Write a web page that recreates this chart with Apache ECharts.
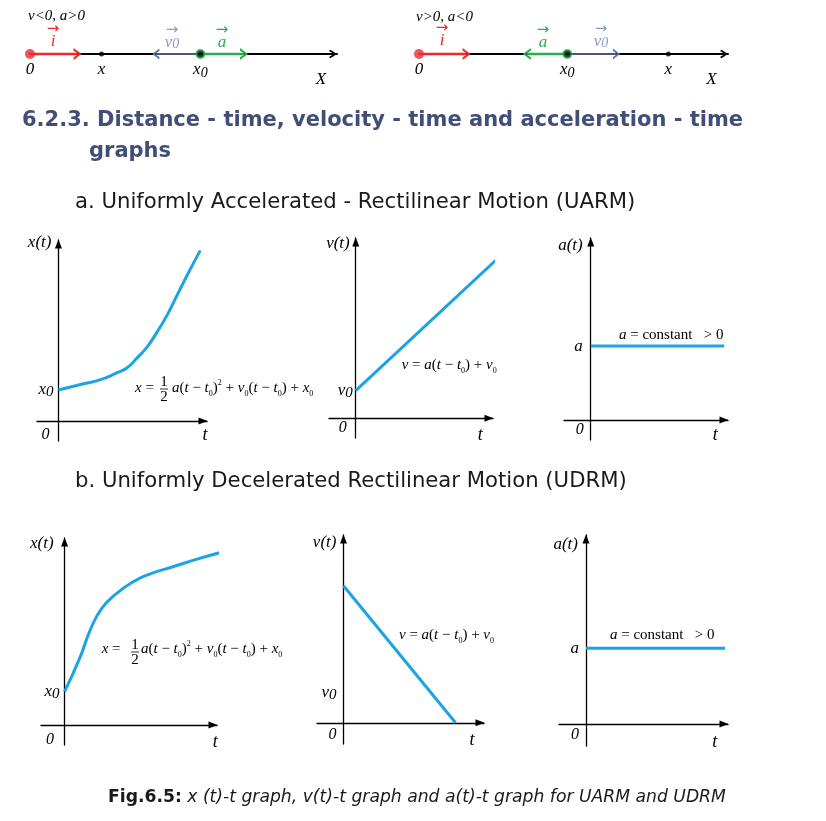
<!DOCTYPE html>
<html><head><meta charset="utf-8">
<script src="https://cdn.jsdelivr.net/npm/echarts@6/dist/echarts.min.js"></script>
<style>html,body{margin:0;padding:0;background:#fff}#c{width:826px;height:821px}</style>
</head><body><div id="c"></div>
<script>
// ================= DATA =================
// number line 1 (v<0, a>0): positions along X
const nl1Points = [0, 2.33, 5.55];          // 0, x, x0
const nl1Names  = ['0', 'x', 'x0'];
const nl1ArrowI  = [0, 1.55];
const nl1ArrowV0 = [5.55, 4.1];
const nl1ArrowA  = [5.55, 6.97];
// number line 2 (v>0, a<0)
const nl2Points = [0, 4.8, 8.07];           // 0, x0, x
const nl2Names  = ['0', 'x0', 'x'];
const nl2ArrowI  = [0, 1.54];
const nl2ArrowA  = [4.8, 3.49];
const nl2ArrowV0 = [4.8, 6.39];

// UARM graphs
const uarmT  = [0, 1.69, 2.89, 4.08, 4.79, 5.49, 6.20, 6.90, 7.61, 8.31, 9.01, 9.93];
const uarmX  = [2.0, 2.39, 2.65, 3.10, 3.42, 4.06, 4.77, 5.74, 6.84, 8.13, 9.42, 11.03];
const uarmVT = [0, 10.04];
const uarmV  = [1.78, 10.36];
const uarmAT = [0, 9.39];
const uarmA  = [4.77, 4.77];
// UDRM graphs
const udrmT  = [0, 1.11, 1.81, 2.63, 3.69, 4.86, 6.04, 7.68, 9.56, 11.67];
const udrmX  = [2.15, 4.41, 6.13, 7.53, 8.50, 9.25, 9.74, 10.21, 10.75, 11.29];
const udrmVT = [0, 7.92];
const udrmV  = [8.84, 0];
const udrmAT = [0, 9.79];
const udrmA  = [4.88, 4.88];
const udrmV0Tick = 1.94;

// ================= STYLE / LAYOUT =================
const SERIF = "'Liberation Serif','Times New Roman',serif";
const SANS = "'DejaVu Sans',Arial,Helvetica,sans-serif";
const BLUE = '#1ba3e4';
const RED = '#ec2a2e';
const GREEN = '#27b04a';
const VBLUE = '#5d74a3';
const CHEV_UP = 'path://M6,0 L12,9 L10,11 L6,4.2 L2,11 L0,9 Z';
const CHEV_R = 'path://M0,0 L10,6 L0,12 L0,9.2 L6.4,6 L0,2.8 Z';

const graphs = [
  {t: uarmT, v: uarmX, tick: uarmX[0], tickName: 'x0', yName: 'x(t)',
   box: {left: 37, top: 240, width: 170, height: 201}, xr: [-1.5, 10.4], yr: [-1.3, 11.7],
   yGap: -3, yPad: 7, tGap: -2, tPad: 5.5, zPad: 9, zM: 5.5, labM: 5},
  {t: uarmVT, v: uarmV, tick: uarmV[0], tickName: 'v0', yName: 'v(t)',
   box: {left: 329, top: 238, width: 164, height: 200}, xr: [-1.88, 9.65], yr: [-1.27, 11.63],
   yGap: -5.5, yPad: 6, tGap: -12.7, tPad: 8, zPad: 9, zM: 1, labM: 3},
  {t: uarmAT, v: uarmA, tick: uarmA[0], tickName: 'a', yName: 'a(t)',
   box: {left: 564, top: 238, width: 164, height: 202}, xr: [-1.88, 9.65], yr: [-1.29, 11.74],
   yGap: -8, yPad: 8, tGap: -12.7, tPad: 6.5, zPad: 7, zM: 2, labM: 8},
  {t: udrmT, v: udrmX, tick: udrmX[0], tickName: 'x0', yName: 'x(t)',
   box: {left: 41, top: 538, width: 176, height: 207}, xr: [-1.66, 10.73], yr: [-1.29, 12.05],
   yGap: -6, yPad: 11, tGap: -1.7, tPad: 8, zPad: 10.5, zM: 6.5, labM: 5},
  {t: udrmVT, v: udrmV, tick: udrmV0Tick, tickName: 'v0', yName: 'v(t)',
   box: {left: 317, top: 535, width: 167, height: 209}, xr: [-1.87, 9.93], yr: [-1.37, 12.11],
   yGap: -7.5, yPad: 7, tGap: -12, tPad: 9, zPad: 7, zM: 4.3, labM: 7},
  {t: udrmAT, v: udrmA, tick: udrmA[0], tickName: 'a', yName: 'a(t)',
   box: {left: 559, top: 535, width: 169, height: 211}, xr: [-1.9, 10.0], yr: [-1.42, 12.19],
   yGap: -9.6, yPad: 8, tGap: -13.3, tPad: 9, zPad: 7, zM: 3, labM: 7}
];

const italic = {fontFamily: SERIF, fontStyle: 'italic', color: '#000'};
const richLab = {
  v: {fontFamily: SERIF, fontStyle: 'italic', fontSize: 17, lineHeight: 20, color: '#000'},
  s: {fontFamily: SERIF, fontStyle: 'italic', fontSize: 15, lineHeight: 15, verticalAlign: 'bottom', color: '#000'}
};
function fmtName(n) {
  if (n.length === 2) return '{v|' + n[0] + '}{s|' + n[1] + '}';
  return '{v|' + n + '}';
}

const grid = [], xAxis = [], yAxis = [], series = [];
graphs.forEach((g, k) => {
  grid.push(Object.assign({containLabel: false}, g.box));
  // labels stay at the grid edge, so shift them to the crossing axis
  const dx = (-g.xr[0]) / (g.xr[1] - g.xr[0]) * g.box.width;
  const dy = (-g.yr[0]) / (g.yr[1] - g.yr[0]) * g.box.height;
  xAxis.push({
    type: 'value', gridIndex: k, min: g.xr[0], max: g.xr[1],
    splitLine: {show: false}, axisTick: {show: false},
    axisLine: {show: true, onZero: true, symbol: ['none', 'triangle'], symbolSize: [7, 9], symbolOffset: [0, -4],
      lineStyle: {color: '#000', width: 1.3}},
    axisLabel: {customValues: [0], formatter: () => '0', margin: g.zM - dy, align: 'right',
      padding: [0, g.zPad, 0, 0], fontSize: 16, ...italic},
    name: 't', nameLocation: 'end', nameGap: g.tGap,
    nameTextStyle: {fontSize: 18, align: 'center', verticalAlign: 'top', padding: [g.tPad, 0, 0, 0], ...italic}
  });
  yAxis.push({
    type: 'value', gridIndex: k, min: g.yr[0], max: g.yr[1],
    splitLine: {show: false}, axisTick: {show: false},
    axisLine: {show: true, onZero: true, symbol: ['none', 'triangle'], symbolSize: [7, 9], symbolOffset: [0, -4],
      lineStyle: {color: '#000', width: 1.3}},
    axisLabel: {customValues: [g.tick], formatter: () => fmtName(g.tickName), margin: g.labM - dx, rich: richLab},
    name: g.yName, nameLocation: 'end', nameGap: g.yGap,
    nameTextStyle: {fontSize: 17, align: 'right', verticalAlign: 'middle', padding: [0, g.yPad, 0, 0], ...italic}
  });
  series.push({
    type: 'line', xAxisIndex: k, yAxisIndex: k, clip: false, symbol: 'none',
    smooth: g.t.length > 2 ? 0.5 : false,
    data: g.t.map((t, i) => [t, g.v[i]]),
    lineStyle: {color: BLUE, width: 3}
  });
});

// ---- number lines ----
const numberLines = [
  {pts: nl1Points, names: nl1Names, x0: nl1Points[2], arrows: [[nl1ArrowI, RED, 2.5], [nl1ArrowV0, VBLUE, 1.3], [nl1ArrowA, GREEN, 2.5]],
   box: {left: 30, top: 44, width: 307, height: 20}, XGap: -16},
  {pts: nl2Points, names: nl2Names, x0: nl2Points[1], arrows: [[nl2ArrowI, RED, 2.5], [nl2ArrowA, GREEN, 2.5], [nl2ArrowV0, VBLUE, 1.3]],
   box: {left: 419, top: 44, width: 309, height: 20}, XGap: -16.6}
];
const nlRich = {
  v: {fontFamily: SERIF, fontStyle: 'italic', fontSize: 17, lineHeight: 20, color: '#000'},
  s: {fontFamily: SERIF, fontStyle: 'italic', fontSize: 14, lineHeight: 14, verticalAlign: 'bottom', color: '#000'}
};
numberLines.forEach((nl) => {
  const k = grid.length;
  grid.push(Object.assign({}, nl.box));
  xAxis.push({
    type: 'value', gridIndex: k, min: 0, max: 10,
    splitLine: {show: false}, axisTick: {show: false},
    axisLine: {show: true, onZero: true, symbol: ['none', CHEV_UP], symbolSize: [13, 8], symbolOffset: [0, -4],
      lineStyle: {color: '#000', width: 2}},
    axisLabel: {customValues: nl.pts, margin: -4, rich: nlRich,
      formatter: (v) => fmtName(nl.names[nl.pts.indexOf(v)] || '')},
    name: 'X', nameLocation: 'end', nameGap: nl.XGap,
    nameTextStyle: {fontSize: 17, align: 'center', verticalAlign: 'top', padding: [17, 0, 0, 0], ...italic}
  });
  yAxis.push({type: 'value', gridIndex: k, min: -1, max: 1, show: false});
  nl.arrows.forEach(([seg, col, w]) => {
    series.push({
      type: 'line', xAxisIndex: k, yAxisIndex: k, clip: false, z: 3,
      data: [
        {value: [seg[0], 0], symbol: 'none'},
        {value: [seg[1], 0], symbol: CHEV_R, symbolSize: w > 2 ? [8, 12] : [7, 11],
         symbolRotate: seg[1] > seg[0] ? 0 : 180}
      ],
      showSymbol: true, itemStyle: {color: col}, lineStyle: {color: col, width: w}
    });
  });
  series.push({type: 'scatter', xAxisIndex: k, yAxisIndex: k, z: 4, symbolSize: 10,
    data: [[nl.pts[0], 0]], itemStyle: {color: RED}});
  series.push({type: 'scatter', xAxisIndex: k, yAxisIndex: k, z: 4, symbolSize: 5,
    data: nl.pts.slice(1).filter(p => p !== nl.x0).map(p => [p, 0]), itemStyle: {color: '#000'}});
  series.push({type: 'scatter', xAxisIndex: k, yAxisIndex: k, z: 5, symbolSize: 8,
    data: [[nl.x0, 0]], itemStyle: {color: '#000', borderColor: GREEN, borderWidth: 2}});
});

// ---- text graphics ----
const FSZ = 15;
const fRich = {
  i: {fontFamily: SERIF, fontStyle: 'italic', fontSize: FSZ, lineHeight: 19},
  s: {fontFamily: SERIF, fontSize: 8, lineHeight: 9, verticalAlign: 'bottom'},
  p: {fontFamily: SERIF, fontSize: 8, lineHeight: 9, verticalAlign: 'top'}
};
function ftext(x, y, str) {
  return {type: 'text', x: x, y: y, style: {text: str, fontFamily: SERIF, fontSize: FSZ, lineHeight: 19,
    fill: '#000', verticalAlign: 'middle', align: 'left', rich: fRich}};
}
const xRest = '{i|a}({i|t} − {i|t}{s|0}){p|2} + {i|v}{s|0}({i|t} − {i|t}{s|0}) + {i|x}{s|0}';
const vForm = '{i|v} = {i|a}({i|t} − {i|t}{s|0}) + {i|v}{s|0}';
const aForm = '{i|a} = constant   > 0';
function xFormula(x, y, fx, rx, by) {
  return [
    ftext(x, y, '{i|x} ='),
    {type: 'text', x: fx, y: by - 7, style: {text: '1', fontFamily: SERIF, fontSize: 15, fill: '#000', align: 'center', verticalAlign: 'middle'}},
    {type: 'line', shape: {x1: fx - 4, y1: by, x2: fx + 4, y2: by}, style: {stroke: '#000', lineWidth: 0.8}},
    {type: 'text', x: fx, y: by + 8, style: {text: '2', fontFamily: SERIF, fontSize: 15, fill: '#000', align: 'center', verticalAlign: 'middle'}},
    ftext(rx, y, xRest)
  ];
}
function vecLabel(x, y, letter, sub, col) {
  const rich = {
    ar: {fontFamily: "'DejaVu Sans',sans-serif", fontSize: 15, lineHeight: 8, fill: col},
    l: {fontFamily: SERIF, fontStyle: 'italic', fontSize: 17, lineHeight: 17, fill: col},
    s: {fontFamily: SERIF, fontStyle: 'italic', fontSize: 14, lineHeight: 14, verticalAlign: 'bottom', fill: col}
  };
  const txt = '{ar|→}\n{l|' + letter + '}' + (sub ? '{s|' + sub + '}' : '');
  return {type: 'text', x: x, y: y, style: {text: txt, rich: rich, align: 'center', verticalAlign: 'middle', fill: col}};
}
const graphic = [
  {type: 'text', x: 28, y: 16, style: {text: 'v<0, a>0', fontFamily: SERIF, fontStyle: 'italic', fontSize: 15, fill: '#000', verticalAlign: 'middle'}},
  {type: 'text', x: 416, y: 17, style: {text: 'v>0, a<0', fontFamily: SERIF, fontStyle: 'italic', fontSize: 15, fill: '#000', verticalAlign: 'middle'}},
  vecLabel(53, 38, 'i', '', RED),
  vecLabel(172, 39, 'v', '0', '#8a9cc6'),
  vecLabel(222, 39, 'a', '', GREEN),
  vecLabel(442, 37, 'i', '', RED),
  vecLabel(543, 39, 'a', '', GREEN),
  vecLabel(601, 38, 'v', '0', '#8a9cc6'),
  {type: 'text', x: 22, y: 121, style: {text: '6.2.3. Distance - time, velocity - time and acceleration - time',
    fontFamily: SANS, fontWeight: 'bold', fontSize: 21, fill: '#404e78', verticalAlign: 'middle'}},
  {type: 'text', x: 89, y: 152, style: {text: 'graphs', fontFamily: SANS, fontWeight: 'bold', fontSize: 21, fill: '#404e78', verticalAlign: 'middle'}},
  {type: 'text', x: 75, y: 202, style: {text: 'a. Uniformly Accelerated - Rectilinear Motion (UARM)', fontFamily: SANS, fontSize: 21.2, fill: '#1a1a1a', verticalAlign: 'middle'}},
  {type: 'text', x: 75, y: 481, style: {text: 'b. Uniformly Decelerated Rectilinear Motion (UDRM)', fontFamily: SANS, fontSize: 21.2, fill: '#1a1a1a', verticalAlign: 'middle'}},
  {type: 'text', x: 108, y: 798, style: {text: '{b|Fig.6.5:} {i|x (t)-t graph, v(t)-t graph and a(t)-t graph for UARM and UDRM}',
    fontFamily: SANS, fontSize: 17.2, fill: '#1a1a1a', verticalAlign: 'middle',
    rich: {b: {fontFamily: SANS, fontWeight: 'bold', fontSize: 17.2}, i: {fontFamily: SANS, fontStyle: 'italic', fontSize: 17.2}}}},
  ...xFormula(135, 388, 164, 172, 389),
  ...xFormula(101.7, 649, 135, 141, 652),
  ftext(401.7, 365, vForm),
  ftext(399, 635, vForm),
  ftext(619, 335, aForm),
  ftext(610, 635, aForm)
];

const chart = echarts.init(document.getElementById('c'), null, {renderer: 'canvas'});
chart.setOption({animation: false, backgroundColor: '#fff', grid, xAxis, yAxis, series, graphic});
</script></body></html>
